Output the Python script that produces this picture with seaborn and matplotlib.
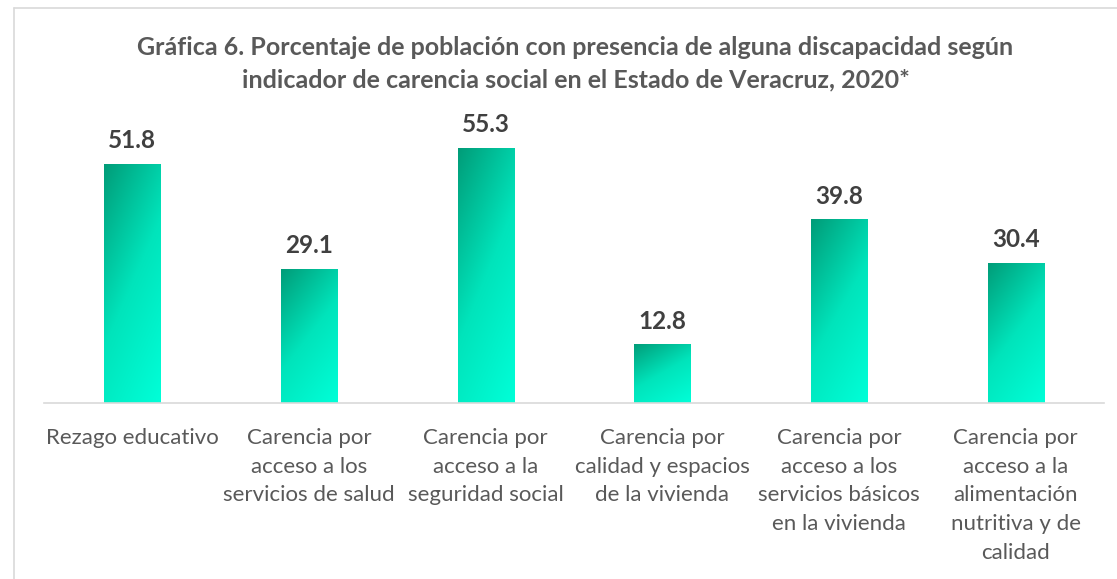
import numpy as np
import pandas as pd
import matplotlib
matplotlib.use("Agg")
import matplotlib.pyplot as plt
import seaborn as sns
from matplotlib.colors import LinearSegmentedColormap
from matplotlib.lines import Line2D

categories = [
    "Rezago educativo",
    "Carencia por\nacceso a los\nservicios de salud",
    "Carencia por\nacceso a la\nseguridad social",
    "Carencia por\ncalidad y espacios\nde la vivienda",
    "Carencia por\nacceso a los\nservicios básicos\nen la vivienda",
    "Carencia por\nacceso a la\nalimentación\nnutritiva y de\ncalidad",
]
values = [51.8, 29.1, 55.3, 12.8, 39.8, 30.4]
title = ("Gráfica 6. Porcentaje de población con presencia de alguna discapacidad según\n"
         "indicador de carencia social en el Estado de Veracruz, 2020*")

sns.set_theme(style="white")
plt.rcParams["font.family"] = ["Lato", "DejaVu Sans"]

df = pd.DataFrame({"cat": categories, "val": values})

W, H = 1117, 579
fig = plt.figure(figsize=(W / 100, H / 100), dpi=100)
ax = fig.add_axes([44 / W, 1 - 403 / H, (1104 - 44) / W, (403 - 100) / H])

sns.barplot(data=df, x="cat", y="val", ax=ax, color="#00d4a8", width=56 / 176.6,
            saturation=1)

ymax = (403 - 100) / 4.62

cmap = LinearSegmentedColormap.from_list("g", ["#009c78", "#00e4bb", "#00ffd8"])
gx, gy = np.meshgrid(np.linspace(0, 1, 64), np.linspace(0, 1, 256))
for p in ax.patches:
    x0, y0 = p.get_x(), p.get_y()
    w, h = p.get_width(), p.get_height()
    grad = 0.35 * gx + 0.65 * (1 - gy)
    img = ax.imshow(grad, cmap=cmap, extent=[x0, x0 + w, y0, y0 + h],
                    origin="lower", aspect="auto", zorder=p.get_zorder() + 0.1,
                    vmin=0, vmax=1)
    img.set_clip_path(p)
    ax.text(x0 + w / 2, h + 3.3, f"{h:.1f}", ha="center", va="baseline",
            fontsize=17.5, fontweight="bold", color="#404040")
ax.set_xlim(-0.5, len(categories) - 0.5)
ax.set_ylim(0, ymax)

ax.set_xlabel("")
ax.set_ylabel("")
ax.set_yticks([])
ax.tick_params(axis="x", length=0, pad=18, labelsize=16, labelcolor="#595959")
for lbl in ax.get_xticklabels():
    lbl.set_linespacing(1.54)
    lbl.set_va("top")
for s in ["top", "right", "left"]:
    ax.spines[s].set_visible(False)
ax.spines["bottom"].set_color("#d9d9d9")
ax.spines["bottom"].set_linewidth(1.2)

fig.text(575.5 / W, 1 - 64 / H, title, ha="center", va="center", fontsize=18,
         fontweight="bold", color="#595959", linespacing=1.48)

# chart-area frame (only top and left edges fall inside the image)
fx, fy = 13.5 / W, 1 - 7.5 / H
fig.lines.append(Line2D([fx, 1.01], [fy, fy], transform=fig.transFigure,
                        color="#d9d9d9", linewidth=1.2))
fig.lines.append(Line2D([fx, fx], [fy, -0.01], transform=fig.transFigure,
                        color="#d9d9d9", linewidth=1.2))

fig.savefig("out.png", dpi=100)
